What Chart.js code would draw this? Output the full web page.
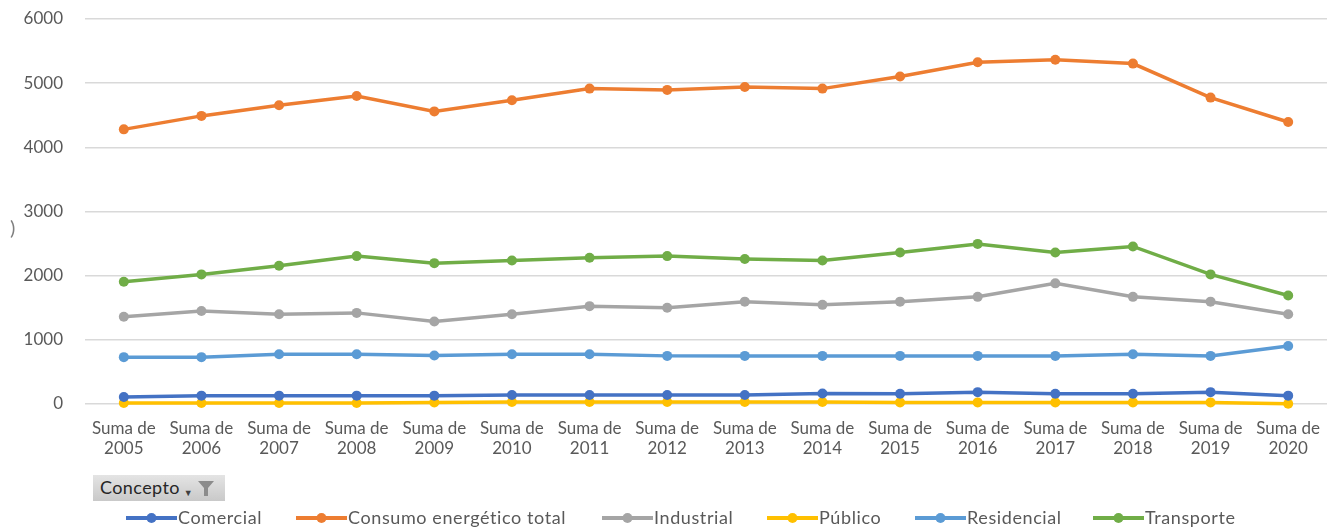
<!DOCTYPE html>
<html>
<head>
<meta charset="utf-8">
<script src="https://cdn.jsdelivr.net/npm/chart.js@4/dist/chart.umd.min.js"></script>
<style>
  html, body { margin: 0; padding: 0; background: #ffffff; }
  #wrap { position: relative; width: 1335px; height: 529px; }
  #concepto {
    position: absolute; left: 93px; top: 475px; width: 132px; height: 26px;
    background: linear-gradient(#e4e4e4, #c9c9c9);
    font-family: Lato, "Open Sans", sans-serif; font-size: 18px; color: #262626;
    box-sizing: border-box; padding: 1px 0 0 7px; white-space: nowrap; letter-spacing: 0.4px;
  }
  #concepto .arrow { font-size: 9px; color: #404040; margin-left: 4px; vertical-align: -2px; }
  #concepto svg { position: absolute; left: 104px; top: 5px; }
</style>
</head>
<body>
<div id="wrap">
  <canvas id="c" width="1335" height="529"></canvas>
  <div id="concepto">Concepto<span class="arrow">▼</span>
    <svg width="18" height="17" viewBox="0 0 18 17"><path d="M1 1 H17 L11 8 V16 H7 V8 Z" fill="#8c8c8c"/></svg>
  </div>
</div>
<script>
// Years on the category axis
const years = ['2005','2006','2007','2008','2009','2010','2011','2012','2013','2014','2015','2016','2017','2018','2019','2020'];
const categoryPrefix = 'Suma de';

// Energy consumption per sector
const comercial   = [110, 130, 130, 130, 130, 140, 140, 140, 140, 165, 160, 185, 160, 160, 185, 130];
const consumoTotal = [4280, 4490, 4655, 4800, 4560, 4735, 4915, 4895, 4940, 4915, 5105, 5325, 5365, 5305, 4775, 4395];
const industrial  = [1360, 1450, 1400, 1420, 1285, 1400, 1525, 1500, 1595, 1545, 1595, 1670, 1880, 1670, 1595, 1400];
const publico     = [15, 15, 15, 15, 25, 30, 30, 30, 30, 30, 25, 25, 25, 25, 25, 5];
const residencial = [730, 730, 775, 775, 755, 775, 775, 750, 750, 750, 750, 750, 750, 775, 750, 905];
const transporte  = [1905, 2020, 2155, 2305, 2195, 2235, 2280, 2305, 2260, 2235, 2360, 2495, 2360, 2455, 2020, 1690];

// Value axis ticks
const yTicks = [0, 1000, 2000, 3000, 4000, 5000, 6000];

const seriesNames = ['Comercial', 'Consumo energético total', 'Industrial', 'Público', 'Residencial', 'Transporte'];
const seriesData = [comercial, consumoTotal, industrial, publico, residencial, transporte];
const seriesColors = ['#4472C4', '#ED7D31', '#A5A5A5', '#FFC000', '#5B9BD5', '#70AD47'];

const FONT = 'Lato, "Open Sans", sans-serif';
const TEXT = '#595959';

const datasets = seriesNames.map((name, i) => ({
  label: name,
  data: seriesData[i],
  borderColor: seriesColors[i],
  backgroundColor: seriesColors[i],
  borderWidth: 3.5,
  pointRadius: 5,
  pointBorderWidth: 0,
  pointHoverRadius: 5,
  tension: 0,
  clip: false
}));

// Legend row: a line with a marker, followed by the series name
const legendStarts = [126, 296, 602, 767, 915, 1093];
const legendPlugin = {
  id: 'lineLegend',
  afterDraw(chart) {
    const ctx = chart.ctx;
    ctx.save();
    const y = 518;
    seriesNames.forEach((name, i) => {
      const x = legendStarts[i];
      ctx.strokeStyle = seriesColors[i];
      ctx.lineWidth = 4;
      ctx.beginPath();
      ctx.moveTo(x, y);
      ctx.lineTo(x + 51, y);
      ctx.stroke();
      ctx.fillStyle = seriesColors[i];
      ctx.beginPath();
      ctx.arc(x + 25.5, y, 5, 0, Math.PI * 2);
      ctx.fill();
      ctx.fillStyle = TEXT;
      ctx.font = '18px ' + FONT;
      ctx.letterSpacing = '0.6px';
      ctx.textBaseline = 'middle';
      ctx.textAlign = 'left';
      ctx.fillText(name, x + 52, y);
    });
    // leftover fragment of the value-axis title
    ctx.letterSpacing = '0px';
    ctx.fillStyle = '#7f7f7f';
    ctx.font = '20px ' + FONT;
    ctx.fillText(')', 10, 229);
    ctx.restore();
  }
};

new Chart(document.getElementById('c'), {
  type: 'line',
  data: {
    labels: years.map(y => [categoryPrefix, y]),
    datasets
  },
  options: {
    responsive: false,
    animation: false,
    layout: { padding: { top: 19, right: 8, left: 0, bottom: 0 } },
    plugins: {
      legend: { display: false },
      tooltip: { enabled: false }
    },
    scales: {
      x: {
        type: 'category',
        offset: true,
        grid: { display: false, drawTicks: false },
        border: { display: false },
        ticks: {
          color: TEXT,
          font: { family: FONT, size: 17, lineHeight: 1.18 },
          padding: 14,
          maxRotation: 0,
          autoSkip: false
        },
        afterFit(scale) { scale.height = 125; }
      },
      y: {
        min: 0,
        max: 6000,
        afterBuildTicks(scale) { scale.ticks = yTicks.map(v => ({ value: v })); },
        grid: { color: '#d9d9d9', lineWidth: 1.5, drawTicks: false },
        border: { display: false },
        ticks: {
          color: TEXT,
          font: { family: FONT, size: 17 },
          padding: 22,
          callback: v => String(v)
        },
        afterFit(scale) {
          scale.width = 85;
          scale.paddingTop = 0;
          scale.paddingBottom = 0;
        }
      }
    }
  },
  plugins: [legendPlugin]
});
</script>
</body>
</html>
